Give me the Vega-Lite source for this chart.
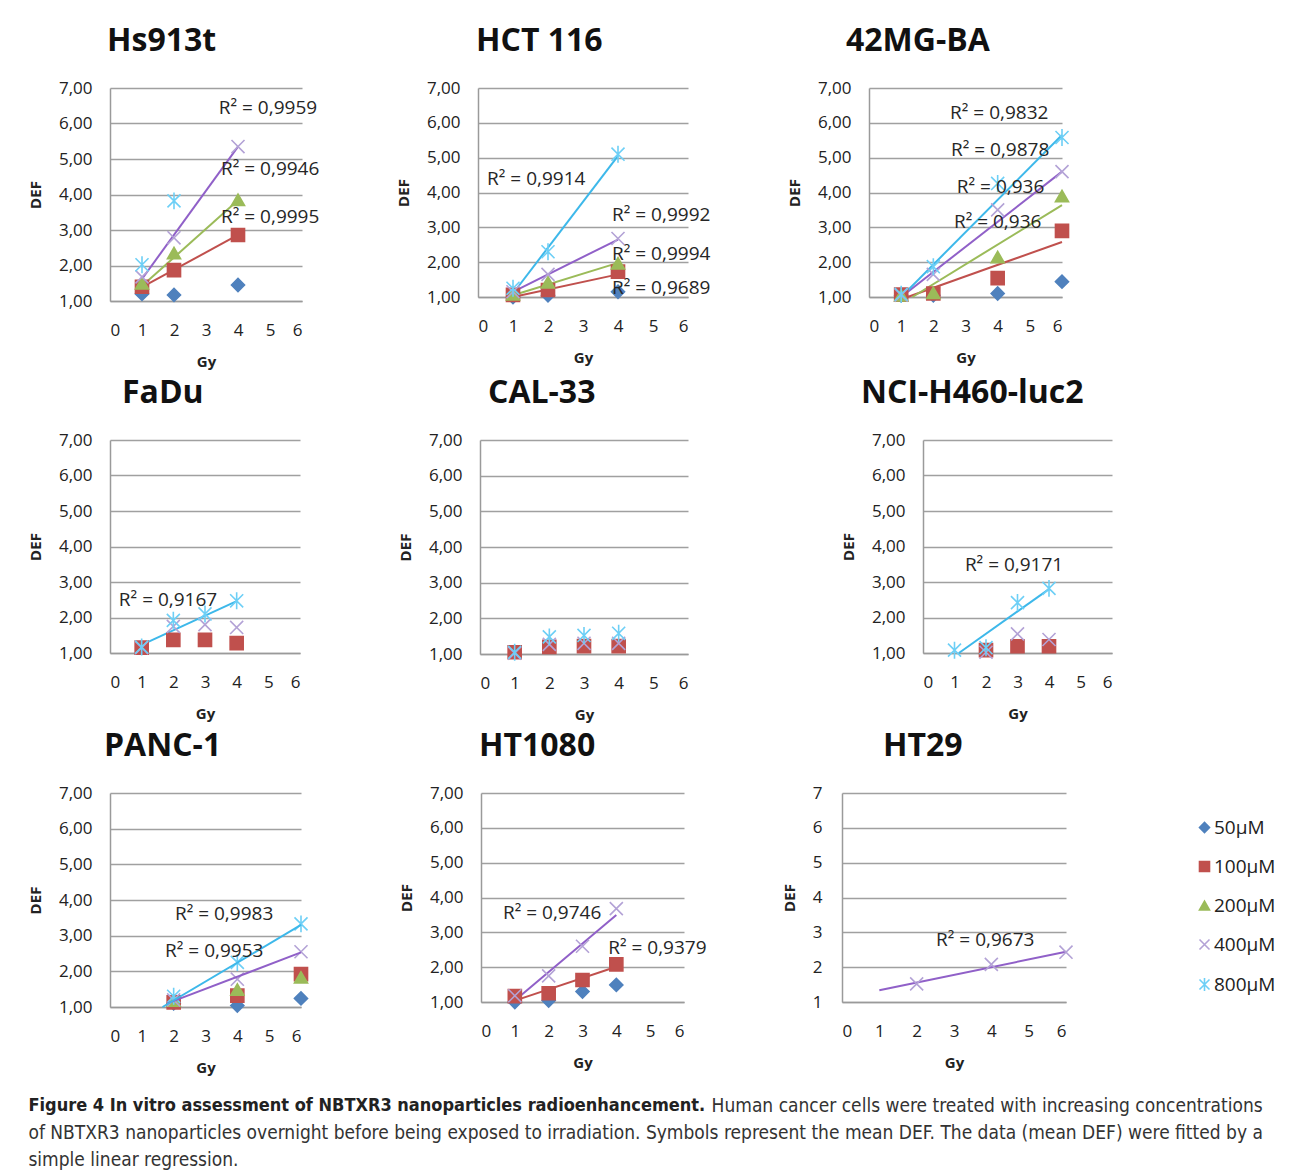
{
"$schema":"https://vega.github.io/schema/vega-lite/v6.json",
"background":"white",
"padding":{"left":28,"top":25,"right":5,"bottom":5},
"datasets":{
"pts":[
{"panel":"Hs913t","conc":"50µM","gy":1,"def":1.2},{"panel":"Hs913t","conc":"50µM","gy":2,"def":1.17},{"panel":"Hs913t","conc":"50µM","gy":4,"def":1.45},
{"panel":"Hs913t","conc":"100µM","gy":1,"def":1.4},{"panel":"Hs913t","conc":"100µM","gy":2,"def":1.87},{"panel":"Hs913t","conc":"100µM","gy":4,"def":2.86},
{"panel":"Hs913t","conc":"200µM","gy":1,"def":1.5},{"panel":"Hs913t","conc":"200µM","gy":2,"def":2.35},{"panel":"Hs913t","conc":"200µM","gy":4,"def":3.85},
{"panel":"Hs913t","conc":"400µM","gy":1,"def":1.68},{"panel":"Hs913t","conc":"400µM","gy":2,"def":2.78},{"panel":"Hs913t","conc":"400µM","gy":4,"def":5.35},
{"panel":"Hs913t","conc":"800µM","gy":1,"def":2.02},{"panel":"Hs913t","conc":"800µM","gy":2,"def":3.82},
{"panel":"HCT 116","conc":"50µM","gy":1,"def":1.0},{"panel":"HCT 116","conc":"50µM","gy":2,"def":1.05},{"panel":"HCT 116","conc":"50µM","gy":4,"def":1.15},
{"panel":"HCT 116","conc":"100µM","gy":1,"def":1.06},{"panel":"HCT 116","conc":"100µM","gy":2,"def":1.2},{"panel":"HCT 116","conc":"100µM","gy":4,"def":1.73},
{"panel":"HCT 116","conc":"200µM","gy":1,"def":1.08},{"panel":"HCT 116","conc":"200µM","gy":2,"def":1.42},{"panel":"HCT 116","conc":"200µM","gy":4,"def":1.97},
{"panel":"HCT 116","conc":"400µM","gy":1,"def":1.15},{"panel":"HCT 116","conc":"400µM","gy":2,"def":1.65},{"panel":"HCT 116","conc":"400µM","gy":4,"def":2.68},
{"panel":"HCT 116","conc":"800µM","gy":1,"def":1.25},{"panel":"HCT 116","conc":"800µM","gy":2,"def":2.3},{"panel":"HCT 116","conc":"800µM","gy":4,"def":5.1},
{"panel":"42MG-BA","conc":"50µM","gy":1,"def":1.05},{"panel":"42MG-BA","conc":"50µM","gy":2,"def":1.05},{"panel":"42MG-BA","conc":"50µM","gy":4,"def":1.1},{"panel":"42MG-BA","conc":"50µM","gy":6,"def":1.44},
{"panel":"42MG-BA","conc":"100µM","gy":1,"def":1.07},{"panel":"42MG-BA","conc":"100µM","gy":2,"def":1.1},{"panel":"42MG-BA","conc":"100µM","gy":4,"def":1.54},{"panel":"42MG-BA","conc":"100µM","gy":6,"def":2.9},
{"panel":"42MG-BA","conc":"200µM","gy":1,"def":1.05},{"panel":"42MG-BA","conc":"200µM","gy":2,"def":1.12},{"panel":"42MG-BA","conc":"200µM","gy":4,"def":2.15},{"panel":"42MG-BA","conc":"200µM","gy":6,"def":3.9},
{"panel":"42MG-BA","conc":"400µM","gy":1,"def":1.05},{"panel":"42MG-BA","conc":"400µM","gy":2,"def":1.65},{"panel":"42MG-BA","conc":"400µM","gy":4,"def":3.5},{"panel":"42MG-BA","conc":"400µM","gy":6,"def":4.6},
{"panel":"42MG-BA","conc":"800µM","gy":1,"def":1.08},{"panel":"42MG-BA","conc":"800µM","gy":2,"def":1.87},{"panel":"42MG-BA","conc":"800µM","gy":4,"def":4.26},{"panel":"42MG-BA","conc":"800µM","gy":6,"def":5.58},
{"panel":"FaDu","conc":"100µM","gy":1,"def":1.15},{"panel":"FaDu","conc":"100µM","gy":2,"def":1.37},{"panel":"FaDu","conc":"100µM","gy":3,"def":1.37},{"panel":"FaDu","conc":"100µM","gy":4,"def":1.28},
{"panel":"FaDu","conc":"400µM","gy":1,"def":1.15},{"panel":"FaDu","conc":"400µM","gy":2,"def":1.75},{"panel":"FaDu","conc":"400µM","gy":3,"def":1.8},{"panel":"FaDu","conc":"400µM","gy":4,"def":1.72},
{"panel":"FaDu","conc":"800µM","gy":1,"def":1.17},{"panel":"FaDu","conc":"800µM","gy":2,"def":1.92},{"panel":"FaDu","conc":"800µM","gy":3,"def":2.1},{"panel":"FaDu","conc":"800µM","gy":4,"def":2.47},
{"panel":"CAL-33","conc":"100µM","gy":1,"def":1.05},{"panel":"CAL-33","conc":"100µM","gy":2,"def":1.2},{"panel":"CAL-33","conc":"100µM","gy":3,"def":1.22},{"panel":"CAL-33","conc":"100µM","gy":4,"def":1.22},
{"panel":"CAL-33","conc":"400µM","gy":1,"def":1.02},{"panel":"CAL-33","conc":"400µM","gy":2,"def":1.27},{"panel":"CAL-33","conc":"400µM","gy":3,"def":1.3},{"panel":"CAL-33","conc":"400µM","gy":4,"def":1.3},
{"panel":"CAL-33","conc":"800µM","gy":1,"def":1.05},{"panel":"CAL-33","conc":"800µM","gy":2,"def":1.48},{"panel":"CAL-33","conc":"800µM","gy":3,"def":1.52},{"panel":"CAL-33","conc":"800µM","gy":4,"def":1.58},
{"panel":"NCI-H460-luc2","conc":"100µM","gy":2,"def":1.08},{"panel":"NCI-H460-luc2","conc":"100µM","gy":3,"def":1.19},{"panel":"NCI-H460-luc2","conc":"100µM","gy":4,"def":1.19},
{"panel":"NCI-H460-luc2","conc":"400µM","gy":2,"def":1.02},{"panel":"NCI-H460-luc2","conc":"400µM","gy":3,"def":1.54},{"panel":"NCI-H460-luc2","conc":"400µM","gy":4,"def":1.38},
{"panel":"NCI-H460-luc2","conc":"800µM","gy":1,"def":1.08},{"panel":"NCI-H460-luc2","conc":"800µM","gy":2,"def":1.15},{"panel":"NCI-H460-luc2","conc":"800µM","gy":3,"def":2.42},{"panel":"NCI-H460-luc2","conc":"800µM","gy":4,"def":2.82},
{"panel":"PANC-1","conc":"50µM","gy":2,"def":1.1},{"panel":"PANC-1","conc":"50µM","gy":4,"def":1.04},{"panel":"PANC-1","conc":"50µM","gy":6,"def":1.24},
{"panel":"PANC-1","conc":"100µM","gy":2,"def":1.13},{"panel":"PANC-1","conc":"100µM","gy":4,"def":1.32},{"panel":"PANC-1","conc":"100µM","gy":6,"def":1.92},
{"panel":"PANC-1","conc":"200µM","gy":2,"def":1.18},{"panel":"PANC-1","conc":"200µM","gy":4,"def":1.49},{"panel":"PANC-1","conc":"200µM","gy":6,"def":1.83},
{"panel":"PANC-1","conc":"400µM","gy":2,"def":1.2},{"panel":"PANC-1","conc":"400µM","gy":4,"def":1.78},{"panel":"PANC-1","conc":"400µM","gy":6,"def":2.55},
{"panel":"PANC-1","conc":"800µM","gy":2,"def":1.3},{"panel":"PANC-1","conc":"800µM","gy":4,"def":2.25},{"panel":"PANC-1","conc":"800µM","gy":6,"def":3.33},
{"panel":"HT1080","conc":"50µM","gy":1,"def":1.0},{"panel":"HT1080","conc":"50µM","gy":2,"def":1.04},{"panel":"HT1080","conc":"50µM","gy":3,"def":1.3},{"panel":"HT1080","conc":"50µM","gy":4,"def":1.49},
{"panel":"HT1080","conc":"100µM","gy":1,"def":1.17},{"panel":"HT1080","conc":"100µM","gy":2,"def":1.25},{"panel":"HT1080","conc":"100µM","gy":3,"def":1.63},{"panel":"HT1080","conc":"100µM","gy":4,"def":2.08},
{"panel":"HT1080","conc":"400µM","gy":1,"def":1.18},{"panel":"HT1080","conc":"400µM","gy":2,"def":1.75},{"panel":"HT1080","conc":"400µM","gy":3,"def":2.6},{"panel":"HT1080","conc":"400µM","gy":4,"def":3.68},
{"panel":"HT29","conc":"400µM","gy":2,"def":1.52},{"panel":"HT29","conc":"400µM","gy":4,"def":2.08},{"panel":"HT29","conc":"400µM","gy":6,"def":2.43}
],
"fits":[
{"panel":"Hs913t","conc":"100µM","gy":1,"def":1.39},{"panel":"Hs913t","conc":"100µM","gy":4,"def":2.86},
{"panel":"Hs913t","conc":"200µM","gy":1,"def":1.42},{"panel":"Hs913t","conc":"200µM","gy":4,"def":3.84},
{"panel":"Hs913t","conc":"400µM","gy":1,"def":1.62},{"panel":"Hs913t","conc":"400µM","gy":4,"def":5.35},
{"panel":"HCT 116","conc":"100µM","gy":1,"def":1.0},{"panel":"HCT 116","conc":"100µM","gy":4,"def":1.65},
{"panel":"HCT 116","conc":"200µM","gy":1,"def":1.05},{"panel":"HCT 116","conc":"200µM","gy":4,"def":1.98},
{"panel":"HCT 116","conc":"400µM","gy":1,"def":1.15},{"panel":"HCT 116","conc":"400µM","gy":4,"def":2.65},
{"panel":"HCT 116","conc":"800µM","gy":1,"def":1.1},{"panel":"HCT 116","conc":"800µM","gy":4,"def":5.05},
{"panel":"42MG-BA","conc":"100µM","gy":1.2,"def":1.0},{"panel":"42MG-BA","conc":"100µM","gy":6,"def":2.58},
{"panel":"42MG-BA","conc":"200µM","gy":1.35,"def":1.0},{"panel":"42MG-BA","conc":"200µM","gy":6,"def":3.64},
{"panel":"42MG-BA","conc":"400µM","gy":1.0,"def":1.0},{"panel":"42MG-BA","conc":"400µM","gy":6,"def":4.6},
{"panel":"42MG-BA","conc":"800µM","gy":1.0,"def":1.0},{"panel":"42MG-BA","conc":"800µM","gy":6,"def":5.65},
{"panel":"FaDu","conc":"800µM","gy":1,"def":1.23},{"panel":"FaDu","conc":"800µM","gy":4,"def":2.46},
{"panel":"NCI-H460-luc2","conc":"800µM","gy":1.14,"def":1.0},{"panel":"NCI-H460-luc2","conc":"800µM","gy":4,"def":2.8},
{"panel":"PANC-1","conc":"400µM","gy":1.8,"def":1.1},{"panel":"PANC-1","conc":"400µM","gy":6,"def":2.53},
{"panel":"PANC-1","conc":"800µM","gy":1.65,"def":1.0},{"panel":"PANC-1","conc":"800µM","gy":6,"def":3.3},
{"panel":"HT1080","conc":"100µM","gy":1,"def":1.04},{"panel":"HT1080","conc":"100µM","gy":4,"def":2.01},
{"panel":"HT1080","conc":"400µM","gy":1,"def":1.04},{"panel":"HT1080","conc":"400µM","gy":4,"def":3.5},
{"panel":"HT29","conc":"400µM","gy":1,"def":1.34},{"panel":"HT29","conc":"400µM","gy":6,"def":2.44}
],
"r2":[
{"panel":"Hs913t","label":"R² = 0,9959","gy":3.4,"def":6.44},{"panel":"Hs913t","label":"R² = 0,9946","gy":3.47,"def":4.72},{"panel":"Hs913t","label":"R² = 0,9995","gy":3.47,"def":3.37},
{"panel":"HCT 116","label":"R² = 0,9914","gy":0.26,"def":4.39},{"panel":"HCT 116","label":"R² = 0,9992","gy":3.83,"def":3.35},{"panel":"HCT 116","label":"R² = 0,9994","gy":3.83,"def":2.23},{"panel":"HCT 116","label":"R² = 0,9689","gy":3.83,"def":1.26},
{"panel":"42MG-BA","label":"R² = 0,9832","gy":2.52,"def":6.28},{"panel":"42MG-BA","label":"R² = 0,9878","gy":2.55,"def":5.22},{"panel":"42MG-BA","label":"R² = 0,936","gy":2.73,"def":4.16},{"panel":"42MG-BA","label":"R² = 0,936","gy":2.64,"def":3.15},
{"panel":"FaDu","label":"R² = 0,9167","gy":0.28,"def":2.49},
{"panel":"NCI-H460-luc2","label":"R² = 0,9171","gy":1.33,"def":3.48},
{"panel":"PANC-1","label":"R² = 0,9983","gy":2.04,"def":3.61},{"panel":"PANC-1","label":"R² = 0,9953","gy":1.73,"def":2.57},
{"panel":"HT1080","label":"R² = 0,9746","gy":0.65,"def":3.56},{"panel":"HT1080","label":"R² = 0,9379","gy":3.76,"def":2.55},
{"panel":"HT29","label":"R² = 0,9673","gy":2.52,"def":2.78}
]
},
"title":{"text":"Figure 4 In vitro assessment of NBTXR3 nanoparticles radioenhancement.","subtitle":["\u200b\u2003\u2003\u2003\u2003\u2003\u2003\u2003\u2003\u2003\u2003\u2003\u2003\u2003\u2003\u2003\u2003\u2003\u2003\u2003\u2003\u2003\u2003\u2003\u2003\u2003\u2003\u2003\u2003\u2003\u2003\u2003\u2003\u2003\u2003\u2003\u2003\u2003\u2003\u2003\u00a0\u00a0\u00a0Human cancer cells were treated with increasing concentrations","of NBTXR3 nanoparticles overnight before being exposed to irradiation. Symbols represent the mean DEF. The data (mean DEF) were fitted by a","simple linear regression."],"orient":"bottom","anchor":"start","frame":"bounds","offset":22,"font":"Liberation Sans Narrow, DejaVu Sans Condensed, Arial Narrow, sans-serif","fontSize":18,"fontWeight":"bold","color":"#222","subtitleFont":"Liberation Sans Narrow, DejaVu Sans Condensed, Arial Narrow, sans-serif","subtitleFontSize":19,"subtitleFontWeight":"normal","subtitleColor":"#333","subtitleLineHeight":27,"subtitlePadding":-18},
"spacing":8,
"resolve":{"legend":{"shape":"independent","fill":"independent","stroke":"independent"}},
"vconcat":[
{"hconcat":[
{"width":192,"height":213,"title":{"text":"Hs913t","dx":-3},
"encoding":{"x":{"field":"gy","type":"quantitative","scale":{"domain":[0,6],"nice":false,"zero":false},"axis":{"values":[0,1,2,3,4,5,6],"title":"Gy","format":"d"}},"y":{"field":"def","type":"quantitative","scale":{"domain":[1,7],"nice":false,"zero":false},"axis":{"values":[1,2,3,4,5,6,7],"title":"DEF","labelExpr":"replace(format(datum.value,'.2f'),'.',',')"}}},
"layer":[
{"data":{"name":"fits"},"transform":[{"filter":"datum.panel=='Hs913t'"}],"mark":{"type":"line","strokeWidth":2},"encoding":{"color":{"field":"conc","type":"nominal","scale":{"domain":["50µM","100µM","200µM","400µM","800µM"],"range":["#4F81BD","#C0504D","#9BBB59","#9060C8","#3DB8EA"]},"legend":null}}},
{"data":{"name":"pts"},"transform":[{"filter":"datum.panel=='Hs913t'"}],"mark":{"type":"point","size":170,"strokeWidth":1.6,"opacity":1},"encoding":{"shape":{"field":"conc","type":"nominal","title":null,"legend":null,"scale":{"domain":["50µM","100µM","200µM","400µM","800µM"],"range":["diamond","square","triangle-up","M-1,-1L1,1M-1,1L1,-1","M-1,-1L1,1M-1,1L1,-1M0,-1.3L0,1.3"]}},"fill":{"field":"conc","type":"nominal","title":null,"legend":null,"scale":{"domain":["50µM","100µM","200µM","400µM","800µM"],"range":["#4F81BD","#C0504D","#9BBB59","transparent","transparent"]}},"stroke":{"field":"conc","type":"nominal","title":null,"legend":null,"scale":{"domain":["50µM","100µM","200µM","400µM","800µM"],"range":["#4F81BD","#C0504D","#9BBB59","#B3A2D6","#6DCFF6"]}}}},
{"data":{"name":"r2"},"transform":[{"filter":"datum.panel=='Hs913t'"}],"mark":{"type":"text","align":"left","baseline":"middle","font":"Open Sans","fontSize":19,"color":"#262626"},"encoding":{"text":{"field":"label"}}}
]},
{"width":210,"height":209,"title":{"text":"HCT 116","dx":-2},
"encoding":{"x":{"field":"gy","type":"quantitative","scale":{"domain":[0,6],"nice":false,"zero":false},"axis":{"values":[0,1,2,3,4,5,6],"title":"Gy","format":"d"}},"y":{"field":"def","type":"quantitative","scale":{"domain":[1,7],"nice":false,"zero":false},"axis":{"values":[1,2,3,4,5,6,7],"title":"DEF","labelExpr":"replace(format(datum.value,'.2f'),'.',',')"}}},
"layer":[
{"data":{"name":"fits"},"transform":[{"filter":"datum.panel=='HCT 116'"}],"mark":{"type":"line","strokeWidth":2},"encoding":{"color":{"field":"conc","type":"nominal","scale":{"domain":["50µM","100µM","200µM","400µM","800µM"],"range":["#4F81BD","#C0504D","#9BBB59","#9060C8","#3DB8EA"]},"legend":null}}},
{"data":{"name":"pts"},"transform":[{"filter":"datum.panel=='HCT 116'"}],"mark":{"type":"point","size":170,"strokeWidth":1.6,"opacity":1},"encoding":{"shape":{"field":"conc","type":"nominal","title":null,"legend":null,"scale":{"domain":["50µM","100µM","200µM","400µM","800µM"],"range":["diamond","square","triangle-up","M-1,-1L1,1M-1,1L1,-1","M-1,-1L1,1M-1,1L1,-1M0,-1.3L0,1.3"]}},"fill":{"field":"conc","type":"nominal","title":null,"legend":null,"scale":{"domain":["50µM","100µM","200µM","400µM","800µM"],"range":["#4F81BD","#C0504D","#9BBB59","transparent","transparent"]}},"stroke":{"field":"conc","type":"nominal","title":null,"legend":null,"scale":{"domain":["50µM","100µM","200µM","400µM","800µM"],"range":["#4F81BD","#C0504D","#9BBB59","#B3A2D6","#6DCFF6"]}}}},
{"data":{"name":"r2"},"transform":[{"filter":"datum.panel=='HCT 116'"}],"mark":{"type":"text","align":"left","baseline":"middle","font":"Open Sans","fontSize":19,"color":"#262626"},"encoding":{"text":{"field":"label"}}}
]},
{"width":193,"height":209,"title":{"text":"42MG-BA","dx":-23},
"encoding":{"x":{"field":"gy","type":"quantitative","scale":{"domain":[0,6],"nice":false,"zero":false},"axis":{"values":[0,1,2,3,4,5,6],"title":"Gy","format":"d"}},"y":{"field":"def","type":"quantitative","scale":{"domain":[1,7],"nice":false,"zero":false},"axis":{"values":[1,2,3,4,5,6,7],"title":"DEF","labelExpr":"replace(format(datum.value,'.2f'),'.',',')"}}},
"layer":[
{"data":{"name":"fits"},"transform":[{"filter":"datum.panel=='42MG-BA'"}],"mark":{"type":"line","strokeWidth":2},"encoding":{"color":{"field":"conc","type":"nominal","scale":{"domain":["50µM","100µM","200µM","400µM","800µM"],"range":["#4F81BD","#C0504D","#9BBB59","#9060C8","#3DB8EA"]},"legend":null}}},
{"data":{"name":"pts"},"transform":[{"filter":"datum.panel=='42MG-BA'"}],"mark":{"type":"point","size":170,"strokeWidth":1.6,"opacity":1},"encoding":{"shape":{"field":"conc","type":"nominal","title":null,"legend":null,"scale":{"domain":["50µM","100µM","200µM","400µM","800µM"],"range":["diamond","square","triangle-up","M-1,-1L1,1M-1,1L1,-1","M-1,-1L1,1M-1,1L1,-1M0,-1.3L0,1.3"]}},"fill":{"field":"conc","type":"nominal","title":null,"legend":null,"scale":{"domain":["50µM","100µM","200µM","400µM","800µM"],"range":["#4F81BD","#C0504D","#9BBB59","transparent","transparent"]}},"stroke":{"field":"conc","type":"nominal","title":null,"legend":null,"scale":{"domain":["50µM","100µM","200µM","400µM","800µM"],"range":["#4F81BD","#C0504D","#9BBB59","#B3A2D6","#6DCFF6"]}}}},
{"data":{"name":"r2"},"transform":[{"filter":"datum.panel=='42MG-BA'"}],"mark":{"type":"text","align":"left","baseline":"middle","font":"Open Sans","fontSize":19,"color":"#262626"},"encoding":{"text":{"field":"label"}}}
]}
],"spacing":76,"resolve":{"legend":{"shape":"independent","fill":"independent","stroke":"independent"}}},
{"hconcat":[
{"width":190,"height":213,"title":{"text":"FaDu","dx":12},
"encoding":{"x":{"field":"gy","type":"quantitative","scale":{"domain":[0,6],"nice":false,"zero":false},"axis":{"values":[0,1,2,3,4,5,6],"title":"Gy","format":"d"}},"y":{"field":"def","type":"quantitative","scale":{"domain":[1,7],"nice":false,"zero":false},"axis":{"values":[1,2,3,4,5,6,7],"title":"DEF","labelExpr":"replace(format(datum.value,'.2f'),'.',',')"}}},
"layer":[
{"data":{"name":"fits"},"transform":[{"filter":"datum.panel=='FaDu'"}],"mark":{"type":"line","strokeWidth":2},"encoding":{"color":{"field":"conc","type":"nominal","scale":{"domain":["50µM","100µM","200µM","400µM","800µM"],"range":["#4F81BD","#C0504D","#9BBB59","#9060C8","#3DB8EA"]},"legend":null}}},
{"data":{"name":"pts"},"transform":[{"filter":"datum.panel=='FaDu'"}],"mark":{"type":"point","size":170,"strokeWidth":1.6,"opacity":1},"encoding":{"shape":{"field":"conc","type":"nominal","title":null,"legend":null,"scale":{"domain":["50µM","100µM","200µM","400µM","800µM"],"range":["diamond","square","triangle-up","M-1,-1L1,1M-1,1L1,-1","M-1,-1L1,1M-1,1L1,-1M0,-1.3L0,1.3"]}},"fill":{"field":"conc","type":"nominal","title":null,"legend":null,"scale":{"domain":["50µM","100µM","200µM","400µM","800µM"],"range":["#4F81BD","#C0504D","#9BBB59","transparent","transparent"]}},"stroke":{"field":"conc","type":"nominal","title":null,"legend":null,"scale":{"domain":["50µM","100µM","200µM","400µM","800µM"],"range":["#4F81BD","#C0504D","#9BBB59","#B3A2D6","#6DCFF6"]}}}},
{"data":{"name":"r2"},"transform":[{"filter":"datum.panel=='FaDu'"}],"mark":{"type":"text","align":"left","baseline":"middle","font":"Open Sans","fontSize":19,"color":"#262626"},"encoding":{"text":{"field":"label"}}}
]},
{"width":208,"height":214,"title":{"text":"CAL-33","dx":8},
"resolve":{"scale":{"y":"independent"},"axis":{"y":"independent"}},
"encoding":{"x":{"field":"gy","type":"quantitative","scale":{"domain":[0,6],"nice":false,"zero":false},"axis":{"values":[0,1,2,3,4,5,6],"title":"Gy","format":"d"}},"y":{"field":"def","type":"quantitative","scale":{"domain":[1,7],"nice":false,"zero":false},"axis":{"values":[1,2,3,4,5,6,7],"title":"DEF","labelExpr":"replace(format(datum.value,'.2f'),'.',',')"}}},
"layer":[
{"data":{"name":"pts"},"transform":[{"filter":"datum.panel=='CAL-33' && datum.conc=='100µM'"}],"mark":{"type":"point","size":170,"strokeWidth":1.6,"opacity":1},"encoding":{"shape":{"field":"conc","type":"nominal","title":null,"legend":null,"scale":{"domain":["50µM","100µM","200µM","400µM","800µM"],"range":["diamond","square","triangle-up","M-1,-1L1,1M-1,1L1,-1","M-1,-1L1,1M-1,1L1,-1M0,-1.3L0,1.3"]}},"fill":{"field":"conc","type":"nominal","title":null,"legend":null,"scale":{"domain":["50µM","100µM","200µM","400µM","800µM"],"range":["#4F81BD","#C0504D","#9BBB59","transparent","transparent"]}},"stroke":{"field":"conc","type":"nominal","title":null,"legend":null,"scale":{"domain":["50µM","100µM","200µM","400µM","800µM"],"range":["#4F81BD","#C0504D","#9BBB59","#B3A2D6","#6DCFF6"]}}}},
{"data":{"name":"pts"},"transform":[{"filter":"datum.panel=='CAL-33' && datum.conc!='100µM'"}],"mark":{"type":"point","size":170,"strokeWidth":1.6,"opacity":1},"encoding":{"y":{"field":"def","type":"quantitative","scale":{"domain":[1,7],"nice":false,"zero":false},"axis":{"orient":"right","labels":false,"ticks":false,"domain":false,"grid":false,"title":"x","titleOpacity":0,"titleFontSize":12,"titlePadding":42}},"shape":{"field":"conc","type":"nominal","title":null,"legend":null,"scale":{"domain":["50µM","100µM","200µM","400µM","800µM"],"range":["diamond","square","triangle-up","M-1,-1L1,1M-1,1L1,-1","M-1,-1L1,1M-1,1L1,-1M0,-1.3L0,1.3"]}},"fill":{"field":"conc","type":"nominal","title":null,"legend":null,"scale":{"domain":["50µM","100µM","200µM","400µM","800µM"],"range":["#4F81BD","#C0504D","#9BBB59","transparent","transparent"]}},"stroke":{"field":"conc","type":"nominal","title":null,"legend":null,"scale":{"domain":["50µM","100µM","200µM","400µM","800µM"],"range":["#4F81BD","#C0504D","#9BBB59","#B3A2D6","#6DCFF6"]}}}}
]},
{"width":189,"height":213,"title":{"text":"NCI-H460-luc2","dx":-62},
"encoding":{"x":{"field":"gy","type":"quantitative","scale":{"domain":[0,6],"nice":false,"zero":false},"axis":{"values":[0,1,2,3,4,5,6],"title":"Gy","format":"d"}},"y":{"field":"def","type":"quantitative","scale":{"domain":[1,7],"nice":false,"zero":false},"axis":{"values":[1,2,3,4,5,6,7],"title":"DEF","labelExpr":"replace(format(datum.value,'.2f'),'.',',')"}}},
"layer":[
{"data":{"name":"fits"},"transform":[{"filter":"datum.panel=='NCI-H460-luc2'"}],"mark":{"type":"line","strokeWidth":2},"encoding":{"color":{"field":"conc","type":"nominal","scale":{"domain":["50µM","100µM","200µM","400µM","800µM"],"range":["#4F81BD","#C0504D","#9BBB59","#9060C8","#3DB8EA"]},"legend":null}}},
{"data":{"name":"pts"},"transform":[{"filter":"datum.panel=='NCI-H460-luc2'"}],"mark":{"type":"point","size":170,"strokeWidth":1.6,"opacity":1},"encoding":{"shape":{"field":"conc","type":"nominal","title":null,"legend":null,"scale":{"domain":["50µM","100µM","200µM","400µM","800µM"],"range":["diamond","square","triangle-up","M-1,-1L1,1M-1,1L1,-1","M-1,-1L1,1M-1,1L1,-1M0,-1.3L0,1.3"]}},"fill":{"field":"conc","type":"nominal","title":null,"legend":null,"scale":{"domain":["50µM","100µM","200µM","400µM","800µM"],"range":["#4F81BD","#C0504D","#9BBB59","transparent","transparent"]}},"stroke":{"field":"conc","type":"nominal","title":null,"legend":null,"scale":{"domain":["50µM","100µM","200µM","400µM","800µM"],"range":["#4F81BD","#C0504D","#9BBB59","#B3A2D6","#6DCFF6"]}}}},
{"data":{"name":"r2"},"transform":[{"filter":"datum.panel=='NCI-H460-luc2'"}],"mark":{"type":"text","align":"left","baseline":"middle","font":"Open Sans","fontSize":19,"color":"#262626"},"encoding":{"text":{"field":"label"}}}
]}
],"spacing":98,"resolve":{"legend":{"shape":"independent","fill":"independent","stroke":"independent"}}},
{"hconcat":[
{"width":191,"height":214,"title":{"text":"PANC-1","dx":-6},
"resolve":{"scale":{"y":"independent"},"axis":{"y":"independent"}},
"encoding":{"x":{"field":"gy","type":"quantitative","scale":{"domain":[0,6],"nice":false,"zero":false},"axis":{"values":[0,1,2,3,4,5,6],"title":"Gy","format":"d"}},"y":{"field":"def","type":"quantitative","scale":{"domain":[1,7],"nice":false,"zero":false},"axis":{"values":[1,2,3,4,5,6,7],"title":"DEF","labelExpr":"replace(format(datum.value,'.2f'),'.',',')"}}},
"layer":[
{"data":{"name":"pts"},"transform":[{"filter":"datum.panel=='PANC-1'"}],"mark":{"type":"point","size":170,"strokeWidth":1.6,"opacity":1},"encoding":{"shape":{"field":"conc","type":"nominal","title":null,"legend":null,"scale":{"domain":["50µM","100µM","200µM","400µM","800µM"],"range":["diamond","square","triangle-up","M-1,-1L1,1M-1,1L1,-1","M-1,-1L1,1M-1,1L1,-1M0,-1.3L0,1.3"]}},"fill":{"field":"conc","type":"nominal","title":null,"legend":null,"scale":{"domain":["50µM","100µM","200µM","400µM","800µM"],"range":["#4F81BD","#C0504D","#9BBB59","transparent","transparent"]}},"stroke":{"field":"conc","type":"nominal","title":null,"legend":null,"scale":{"domain":["50µM","100µM","200µM","400µM","800µM"],"range":["#4F81BD","#C0504D","#9BBB59","#B3A2D6","#6DCFF6"]}}}},
{"data":{"name":"fits"},"transform":[{"filter":"datum.panel=='PANC-1'"}],"mark":{"type":"line","strokeWidth":2},"encoding":{"y":{"field":"def","type":"quantitative","scale":{"domain":[1,7],"nice":false,"zero":false},"axis":{"orient":"right","labels":false,"ticks":false,"domain":false,"grid":false,"title":"x","titleOpacity":0,"titleFontSize":12,"titlePadding":10}},"color":{"field":"conc","type":"nominal","scale":{"domain":["50µM","100µM","200µM","400µM","800µM"],"range":["#4F81BD","#C0504D","#9BBB59","#9060C8","#3DB8EA"]},"legend":null}}},
{"data":{"name":"r2"},"transform":[{"filter":"datum.panel=='PANC-1'"}],"mark":{"type":"text","align":"left","baseline":"middle","font":"Open Sans","fontSize":19,"color":"#262626"},"encoding":{"y":{"field":"def","type":"quantitative","scale":{"domain":[1,7],"nice":false,"zero":false},"axis":null},"text":{"field":"label"}}}
]},
{"width":203,"height":209,"title":{"text":"HT1080","dx":-2},
"encoding":{"x":{"field":"gy","type":"quantitative","scale":{"domain":[0,6],"nice":false,"zero":false},"axis":{"values":[0,1,2,3,4,5,6],"title":"Gy","format":"d"}},"y":{"field":"def","type":"quantitative","scale":{"domain":[1,7],"nice":false,"zero":false},"axis":{"values":[1,2,3,4,5,6,7],"title":"DEF","labelExpr":"replace(format(datum.value,'.2f'),'.',',')"}}},
"layer":[
{"data":{"name":"fits"},"transform":[{"filter":"datum.panel=='HT1080'"}],"mark":{"type":"line","strokeWidth":2},"encoding":{"color":{"field":"conc","type":"nominal","scale":{"domain":["50µM","100µM","200µM","400µM","800µM"],"range":["#4F81BD","#C0504D","#9BBB59","#9060C8","#3DB8EA"]},"legend":null}}},
{"data":{"name":"pts"},"transform":[{"filter":"datum.panel=='HT1080'"}],"mark":{"type":"point","size":170,"strokeWidth":1.6,"opacity":1},"encoding":{"shape":{"field":"conc","type":"nominal","title":null,"legend":null,"scale":{"domain":["50µM","100µM","200µM","400µM","800µM"],"range":["diamond","square","triangle-up","M-1,-1L1,1M-1,1L1,-1","M-1,-1L1,1M-1,1L1,-1M0,-1.3L0,1.3"]}},"fill":{"field":"conc","type":"nominal","title":null,"legend":null,"scale":{"domain":["50µM","100µM","200µM","400µM","800µM"],"range":["#4F81BD","#C0504D","#9BBB59","transparent","transparent"]}},"stroke":{"field":"conc","type":"nominal","title":null,"legend":null,"scale":{"domain":["50µM","100µM","200µM","400µM","800µM"],"range":["#4F81BD","#C0504D","#9BBB59","#B3A2D6","#6DCFF6"]}}}},
{"data":{"name":"r2"},"transform":[{"filter":"datum.panel=='HT1080'"}],"mark":{"type":"text","align":"left","baseline":"middle","font":"Open Sans","fontSize":19,"color":"#262626"},"encoding":{"text":{"field":"label"}}}
]},
{"width":224,"height":209,"title":{"text":"HT29","dx":41},
"encoding":{"x":{"field":"gy","type":"quantitative","scale":{"domain":[0,6],"nice":false,"zero":false},"axis":{"values":[0,1,2,3,4,5,6],"title":"Gy","format":"d"}},"y":{"field":"def","type":"quantitative","scale":{"domain":[1,7],"nice":false,"zero":false},"axis":{"values":[1,2,3,4,5,6,7],"title":"DEF","format":"d","labelPadding":20}}},
"layer":[
{"data":{"name":"fits"},"transform":[{"filter":"datum.panel=='HT29'"}],"mark":{"type":"line","strokeWidth":2},"encoding":{"color":{"field":"conc","type":"nominal","scale":{"domain":["50µM","100µM","200µM","400µM","800µM"],"range":["#4F81BD","#C0504D","#9BBB59","#9060C8","#3DB8EA"]},"legend":null}}},
{"data":{"name":"pts"},"transform":[{"filter":"datum.panel=='HT29'"}],"mark":{"type":"point","size":170,"strokeWidth":1.6,"opacity":1},"encoding":{"shape":{"field":"conc","type":"nominal","title":null,"legend":{"orient":"right","offset":100,"padding":25,"title":null},"scale":{"domain":["50µM","100µM","200µM","400µM","800µM"],"range":["diamond","square","triangle-up","M-1,-1L1,1M-1,1L1,-1","M-1,-1L1,1M-1,1L1,-1M0,-1.3L0,1.3"]}},"fill":{"field":"conc","type":"nominal","title":null,"legend":{"orient":"right","offset":100,"padding":25,"title":null},"scale":{"domain":["50µM","100µM","200µM","400µM","800µM"],"range":["#4F81BD","#C0504D","#9BBB59","transparent","transparent"]}},"stroke":{"field":"conc","type":"nominal","title":null,"legend":{"orient":"right","offset":100,"padding":25,"title":null},"scale":{"domain":["50µM","100µM","200µM","400µM","800µM"],"range":["#4F81BD","#C0504D","#9BBB59","#B3A2D6","#6DCFF6"]}}}},
{"data":{"name":"r2"},"transform":[{"filter":"datum.panel=='HT29'"}],"mark":{"type":"text","align":"left","baseline":"middle","font":"Open Sans","fontSize":19,"color":"#262626"},"encoding":{"text":{"field":"label"}}}
]}
],"spacing":75,"resolve":{"legend":{"shape":"independent","fill":"independent","stroke":"independent"}}}
],
"config":{
"view":{"stroke":null},
"font":"Open Sans",
"axis":{"labelFont":"Open Sans","labelFontSize":17,"labelColor":"#222","labelOverlap":false,"titleFont":"Open Sans","titleFontSize":15,"titleFontWeight":"bold","titleColor":"#222","domainColor":"#9a9a9a","domainWidth":1.5,"gridColor":"#a0a0a0","gridWidth":1.5,"ticks":false,"tickSize":0},
"axisX":{"grid":false,"labelPadding":21,"titlePadding":16},
"axisY":{"labelPadding":18,"titlePadding":15},
"title":{"font":"Open Sans","fontSize":32,"fontWeight":"bold","color":"#111","anchor":"start","frame":"group","offset":21},
"legend":{"symbolSize":100,"symbolStrokeWidth":1.6,"labelFont":"Open Sans","labelFontSize":19,"labelColor":"#222","rowPadding":19,"labelOffset":0}
}
}
